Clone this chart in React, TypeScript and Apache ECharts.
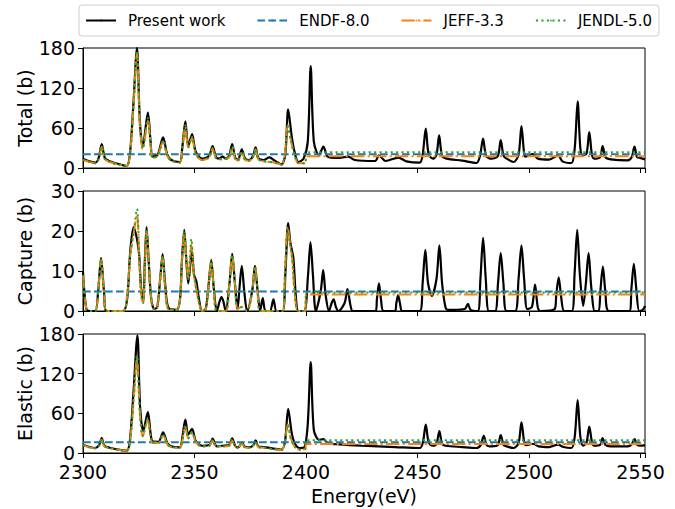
import React, { useEffect, useRef } from "react";
import * as echarts from "echarts";

const seriesNames = ["Present work", "ENDF-8.0", "JEFF-3.3", "JENDL-5.0"];
const panelNames = ["Total (b)", "Capture (b)", "Elastic (b)"];
const xTicks = [2300, 2350, 2400, 2450, 2500, 2550];
const xRange = [2300, 2552];
const yRanges = [[0, 180, 60], [0, 30, 10], [0, 180, 60]];

// ---- Total cross section ----
const totalPresent = [
  [2300,14],[2303,10],[2305.5,8],[2307,15],[2308.4,36],[2309.8,15],[2312,10],[2316,6],[2319.6,3],[2321,20],[2322.5,90],[2324.2,180],[2325.5,70],[2326.8,32],[2329.1,83],[2330.3,40],[2331.2,17],[2333.5,20],[2335.9,46],[2337.8,20],[2339.6,12],[2343.4,9],[2344.5,30],[2345.9,70],[2347.2,33],[2348.9,51],[2350.5,25],[2353.4,14],[2356.5,18],[2358.1,33],[2359.6,17],[2361,14],[2362.6,17],[2364,14],[2365.5,18],[2366.9,36],[2368.2,16],[2369.5,12],[2371.2,28],[2372.7,14],[2374.5,12],[2376.2,18],[2377.4,31],[2378.6,15],[2381,12],[2383.6,16],[2386,11],[2389,5.5],[2390.7,20],[2392,88],[2393.6,47],[2394.8,25],[2396.6,9],[2398.9,14],[2400.8,40],[2402.1,153],[2403.5,40],[2405.8,19],[2407.8,32],[2409.7,17],[2414,15],[2418.9,17],[2421.9,12],[2431,10.5],[2432.7,19],[2435.7,10.5],[2441.4,15.6],[2445,10],[2451,8],[2452.3,20],[2453.7,59],[2455,20],[2457,14],[2458.5,20],[2459.7,49],[2461,18],[2463,14],[2470,11],[2476.4,7.5],[2478,18],[2479.4,44],[2480.8,18],[2483.2,14],[2486,18],[2487.3,42],[2488.6,18],[2490,14],[2493.1,9],[2495.3,20],[2496.6,63],[2497.8,22],[2498.5,17],[2501.8,21],[2504,14],[2509,12.6],[2513,19],[2515,10],[2519,7.5],[2520.5,30],[2521.8,100],[2523,30],[2524,19],[2525.8,22],[2527,54],[2528.2,20],[2529.2,14],[2531.8,16],[2533,33],[2534.3,16],[2536.6,13],[2544.2,11.5],[2546,16],[2547.3,32],[2548.5,16],[2549.5,15.6],[2552,13]
];
const totalEndf = [[2300,20.8],[2552,20.8]];
const totalJeff = [
  [2300,12],[2303,9],[2305.5,7],[2307,13],[2308.4,32],[2309.8,13],[2312,9],[2316,5],[2319.6,3],[2321,18],[2322.5,85],[2324.2,172],[2325.5,65],[2326.8,28],[2329.1,72],[2330.3,36],[2331.2,15],[2333.5,18],[2335.9,40],[2337.8,18],[2339.6,11],[2343.4,8],[2344.5,28],[2345.9,62],[2347.2,30],[2348.9,45],[2350.5,22],[2353.4,12],[2356.5,16],[2358.1,29],[2359.6,15],[2362.6,13],[2365.5,16],[2366.9,32],[2368.2,14],[2369.5,11],[2371.2,24],[2372.7,12],[2374.5,11],[2376.2,16],[2377.4,28],[2378.6,13],[2381,10],[2386,8],[2389,5],[2390.5,20],[2391.8,64],[2393.3,40],[2394.8,20],[2396.6,7],[2399.8,7],[2400,17.6],[2552,17.6]
];
const totalJendl = [
  [2300,12.5],[2303,9],[2305.5,7],[2307,13],[2308.4,33],[2309.8,13],[2312,9],[2316,5],[2319.6,3],[2321,18],[2322.5,86],[2324.2,176],[2325.5,66],[2326.8,29],[2329.1,75],[2330.3,37],[2331.2,15],[2333.5,18],[2335.9,41],[2337.8,18],[2339.6,11],[2343.4,8],[2344.5,28],[2345.9,64],[2347.2,31],[2348.9,47],[2350.5,22],[2353.4,12],[2356.5,16],[2358.1,30],[2359.6,15],[2362.6,13],[2365.5,16],[2366.9,33],[2368.2,14],[2369.5,11],[2371.2,25],[2372.7,12],[2374.5,11],[2376.2,16],[2377.4,29],[2378.6,13],[2381,10],[2386,8],[2389,5],[2390.5,20],[2391.8,62],[2393.3,40],[2394.8,20],[2396.6,7],[2399.8,7],[2400,23.5],[2552,23.5]
];

// ---- Capture cross section ----
const capturePresent = [
  [2300,9.8],[2301.5,0.5],[2303,0],[2305.5,0],[2306.8,5],[2308.1,13.2],[2309.4,5],[2310.6,0],[2318,0],[2319.8,3],[2321.2,15],[2322.7,21],[2324.2,18],[2325.2,14],[2326,6],[2327,2.5],[2327.7,12],[2328.5,21],[2329.5,12],[2330.6,3],[2332,0.5],[2333.3,1],[2334.6,8],[2335.7,14.2],[2336.8,7],[2338.3,0.8],[2342,0.3],[2343.5,3],[2344.4,13],[2345.4,20.3],[2346.4,12],[2347.2,6.9],[2348.8,14.9],[2349.8,9],[2350.8,7.5],[2352,3],[2353.4,0],[2355,0.5],[2356.4,7],[2357.5,12.8],[2358.6,6],[2360,0],[2361.3,2.5],[2362.1,3.5],[2362.9,2.5],[2364,0],[2365.7,7],[2366.9,14.3],[2368.1,7],[2369.3,0.5],[2370.2,6],[2371.2,11.3],[2372.3,5],[2373.6,0],[2376,5.5],[2377.1,11.3],[2378.3,5],[2379.4,0],[2380.6,3.2],[2381.8,0],[2383.8,0],[2385.4,2.9],[2386.8,0],[2389.5,0],[2390.8,10],[2392,22],[2393,17],[2394.3,13.4],[2395.4,4],[2396.6,0],[2399.2,0],[2400.9,9],[2402,17.2],[2403.1,9],[2404.4,0],[2406.6,5],[2407.7,10.2],[2408.8,4],[2410.3,0],[2411.5,2],[2412.4,2.9],[2413.4,1],[2414.5,0],[2417.3,2],[2418.6,5.5],[2419.9,1.5],[2421,0],[2431.2,0],[2431.8,3],[2432.7,6.9],[2433.6,3],[2434.8,0],[2439.8,0],[2440.5,2],[2441.3,4],[2442.1,2],[2443.2,0],[2451,0],[2452.3,7],[2453.5,15.3],[2454.7,7],[2456.4,3.8],[2458.5,8],[2459.8,16.4],[2461,7],[2462.5,1],[2463.5,0.3],[2466,0.3],[2471.2,0.5],[2472.6,1.8],[2473.8,0.3],[2477,0],[2478.2,8],[2479.4,18.3],[2480.6,8],[2482,0],[2484.8,0],[2486.1,7],[2487.3,14.5],[2488.5,7],[2489.9,0],[2493.8,0],[2495.3,8],[2496.6,16.4],[2497.8,8],[2499.2,0.5],[2501.3,1],[2502.7,6.6],[2503.9,1],[2505,0],[2511.5,0.5],[2512.2,4],[2513.3,8.4],[2514.4,3.5],[2515.8,0],[2519.2,0],[2520.4,9],[2521.6,20.3],[2522.8,9],[2524.3,1.3],[2525.5,7],[2526.7,14.5],[2527.9,6],[2529.5,0],[2531.2,0],[2532,5],[2533.1,11.1],[2534.2,5],[2535.8,0],[2545,0],[2545.9,5.5],[2547,11.8],[2548.1,5.5],[2549.4,0],[2551,0.3],[2552,1.3]
];
const captureEndf = [[2300,4.9],[2552,4.9]];
const captureJeff = [
  [2300,9],[2301.5,0.5],[2303,0],[2305.5,0],[2306.8,5],[2308.1,12.8],[2309.4,5],[2310.6,0],[2318,0],[2319.8,4],[2321.2,14],[2322.6,19],[2324.2,24],[2325.3,12],[2326.3,3],[2327,2],[2327.7,11],[2328.5,20],[2329.5,12],[2330.6,3],[2332,0.3],[2333.3,1],[2334.6,8],[2335.7,13.5],[2336.8,6],[2338.3,0.5],[2342,0.3],[2343.5,3],[2344.4,13],[2345.4,19.5],[2346.4,12],[2347.2,8],[2348.6,16.5],[2349.7,9],[2350.6,6],[2352,2],[2353.4,0],[2355,0.5],[2356.4,7],[2357.5,12.3],[2358.6,6],[2360,0],[2364,0],[2365.7,7],[2366.9,13.8],[2368.1,7],[2369.3,0.5],[2371.2,1],[2373.6,0],[2376,5.5],[2377.1,11.2],[2378.3,5],[2379.4,0],[2389.5,0],[2390.6,10],[2391.8,21],[2392.8,17],[2393.8,13],[2395,4],[2396.4,0],[2399.7,0],[2400,4.1],[2552,4.1]
];
const captureJendl = [
  [2300,9],[2301.5,0.5],[2303,0],[2305.5,0],[2306.8,5],[2308.1,13],[2309.4,5],[2310.6,0],[2318,0],[2319.8,4],[2321.2,14],[2322.6,19],[2324.2,25.5],[2325.3,12],[2326.3,3],[2327,2],[2327.7,11],[2328.5,20.5],[2329.5,12],[2330.6,3],[2332,0.3],[2333.3,1],[2334.6,8],[2335.7,13.8],[2336.8,6],[2338.3,0.5],[2342,0.3],[2343.5,3],[2344.4,13],[2345.4,20],[2346.4,12],[2347.2,8],[2348.6,18],[2349.7,9],[2350.6,6],[2352,2],[2353.4,0],[2355,0.5],[2356.4,7],[2357.5,12.5],[2358.6,6],[2360,0],[2364,0],[2365.7,7],[2366.9,14],[2368.1,7],[2369.3,0.5],[2371.2,1],[2373.6,0],[2376,5.5],[2377.1,11.2],[2378.3,5],[2379.4,0],[2389.5,0],[2390.6,10],[2391.8,20.5],[2392.8,17],[2393.8,13],[2395,4],[2396.4,0],[2399.7,0],[2400,4.6],[2552,4.6]
];

// ---- Elastic cross section ----
const elasticPresent = [
  [2300,12.6],[2303,9],[2305.5,7.6],[2307.2,12],[2308.4,22.7],[2309.6,11],[2312,8],[2316,5],[2319.6,3.5],[2321,18],[2322.6,90],[2324.4,178],[2325.6,70],[2327,33],[2329.1,61.7],[2330.3,30],[2331.2,17.7],[2333.8,17],[2335.9,31.3],[2337.8,15],[2339.6,10],[2343.4,8.6],[2344.6,25],[2345.9,50.6],[2347.2,27.8],[2348.9,36.4],[2350.6,18],[2353.4,11],[2356.7,12],[2358.1,21.7],[2359.4,12],[2360.3,10],[2362.6,11],[2365.5,12],[2366.9,22.2],[2368.2,11],[2369.2,8.6],[2370.1,10],[2371.2,16],[2372.4,10],[2374,8.6],[2376.2,11],[2377.4,19],[2378.6,10],[2381,9],[2385,7],[2389,5],[2390.6,18],[2392,66.7],[2393.6,30],[2395,14],[2397,7.6],[2399,8],[2400.7,40],[2402.1,137.5],[2403.5,35],[2405.8,20],[2407.8,21],[2409.8,15],[2415,13],[2425,11],[2440,9],[2451,7.6],[2452.4,16],[2453.7,43],[2455,16],[2456.8,11],[2458.5,14],[2459.8,33],[2461,14],[2462.6,11],[2470,9],[2476.4,7.6],[2478.3,12],[2479.7,26],[2481,12],[2483.2,10],[2486,12],[2487.3,27],[2488.6,12],[2490,10],[2493.1,7.6],[2495.3,15],[2496.6,46.5],[2497.9,15],[2498.8,12],[2501.8,14],[2504.4,10],[2509,9],[2513,12.6],[2515.5,9],[2519,7.6],[2520.5,25],[2521.8,80],[2523,25],[2524.2,11],[2525.8,16],[2527,40],[2528.3,15],[2529.2,11],[2531.8,12],[2533,22.7],[2534.3,12],[2536.6,10],[2544.2,10],[2546,13],[2547.3,21],[2548.6,12],[2550,11],[2552,12]
];
const elasticEndf = [[2300,16.2],[2552,16.2]];
const elasticJeff = [
  [2300,12],[2303,8.5],[2305.5,7],[2307.2,11],[2308.4,20],[2309.6,10],[2312,7.5],[2316,5],[2319.6,3.5],[2321,15],[2322.6,75],[2324.2,144],[2325.5,60],[2326.8,25],[2329,50],[2330.3,25],[2331.2,15],[2333.8,15],[2335.9,27],[2337.8,13],[2339.6,9],[2343.4,8],[2344.6,20],[2345.9,40],[2347.2,22],[2348.9,31],[2350.6,16],[2353.4,10],[2356.7,11],[2358.1,19],[2359.4,11],[2362.6,10],[2365.5,11],[2366.9,19],[2368.2,10],[2369.2,8],[2371.2,14],[2372.4,9],[2374,8],[2376.2,10],[2377.4,16],[2378.6,9],[2381,8],[2385,6],[2389,4.5],[2390.4,15],[2391.8,43],[2393.2,22],[2394.8,10],[2397,5],[2399.7,6],[2400,13.6],[2552,13.6]
];
const elasticJendl = [
  [2300,12],[2303,8.5],[2305.5,7],[2307.2,11],[2308.4,21],[2309.6,10],[2312,7.5],[2316,5],[2319.6,3.5],[2321,15],[2322.6,76],[2324.2,147],[2325.5,61],[2326.8,26],[2329,52],[2330.3,25],[2331.2,15],[2333.8,15],[2335.9,28],[2337.8,13],[2339.6,9],[2343.4,8],[2344.6,20],[2345.9,42],[2347.2,22],[2348.9,32],[2350.6,16],[2353.4,10],[2356.7,11],[2358.1,20],[2359.4,11],[2362.6,10],[2365.5,11],[2366.9,20],[2368.2,10],[2369.2,8],[2371.2,15],[2372.4,9],[2374,8],[2376.2,10],[2377.4,17],[2378.6,9],[2381,8],[2385,6],[2389,4.5],[2390.4,15],[2391.8,42],[2393.2,22],[2394.8,10],[2397,5],[2399.7,6],[2400,19.2],[2552,19.2]
];

const panelData = [
  [totalPresent, totalEndf, totalJeff, totalJendl],
  [capturePresent, captureEndf, captureJeff, captureJendl],
  [elasticPresent, elasticEndf, elasticJeff, elasticJendl],
];

const colors = ["#000000", "#1f77b4", "#ff7f0e", "#2ca02c"];
const dashes: any[] = ["solid", [7.7, 3.3], [13.3, 3.3, 2.1, 3.3], [2.1, 3.4]];
const FONT = "DejaVu Sans";

const grids = [
  { top: 48, height: 120 },
  { top: 191, height: 120 },
  { top: 334, height: 119 },
];

export default function App() {
  const ref = useRef<HTMLDivElement>(null);
  useEffect(() => {
    if (!ref.current) return;
    const chart = echarts.init(ref.current, null, { renderer: "svg" });
    const option: any = {
      animation: false,
      backgroundColor: "#ffffff",
      legend: {
        data: seriesNames,
        left: 79,
        top: 5,
        itemWidth: 30,
        itemHeight: 2,
        itemGap: 31,
        padding: [8, 7, 8, 6],
        borderColor: "#cccccc",
        borderWidth: 1,
        borderRadius: 3,
        textStyle: { fontFamily: FONT, fontSize: 15, color: "#000", padding: [0, 0, 0, 7] },
      },
      grid: grids.map((g) => ({
        left: 83,
        width: 562,
        top: g.top,
        height: g.height,
        show: true,
        borderColor: "#000",
        borderWidth: 1,
        backgroundColor: "transparent",
      })),
      xAxis: grids.map((_, i) => ({
        type: "value",
        gridIndex: i,
        min: xRange[0],
        max: xRange[1],
        interval: 50,
        axisLine: { show: true, lineStyle: { color: "#000", width: 1 } },
        axisTick: { show: true, length: 5, lineStyle: { color: "#000" } },
        splitLine: { show: false },
        axisLabel: {
          show: i === 2,
          margin: 9,
          fontFamily: FONT,
          fontSize: 19,
          color: "#000",
          formatter: (v: number) => (xTicks.indexOf(v) >= 0 ? String(v) : ""),
        },
        name: i === 2 ? "Energy(eV)" : "",
        nameLocation: "middle",
        nameGap: 33,
        nameMoveOverlap: false,
        nameTextStyle: { fontFamily: FONT, fontSize: 19, color: "#000" },
      })),
      yAxis: grids.map((_, i) => ({
        type: "value",
        gridIndex: i,
        min: yRanges[i][0],
        max: yRanges[i][1],
        interval: yRanges[i][2],
        axisLine: { show: true, lineStyle: { color: "#000", width: 1 } },
        axisTick: { show: true, length: 5, lineStyle: { color: "#000" } },
        splitLine: { show: false },
        axisLabel: { margin: 8, fontFamily: FONT, fontSize: 19, color: "#000" },
        name: panelNames[i],
        nameLocation: "middle",
        nameGap: 49,
        nameMoveOverlap: false,
        nameTextStyle: { fontFamily: FONT, fontSize: 19, color: "#000" },
      })),
      series: panelData.flatMap((arr, p) =>
        arr.map((d, s) => ({
          type: "line",
          name: seriesNames[s],
          xAxisIndex: p,
          yAxisIndex: p,
          data: d,
          showSymbol: false,
          symbol: "none",
          smooth: s === 1 ? false : 0.3,
          lineStyle: { color: colors[s], width: s === 0 ? 2.2 : 2, type: dashes[s] },
          itemStyle: { color: colors[s] },
          z: 2 + s,
        }))
      ),
    };
    chart.setOption(option);
    return () => chart.dispose();
  }, []);
  return (
    <div
      ref={ref}
      style={{ position: "absolute", left: 0, top: 0, width: 675, height: 509, background: "#fff" }}
    />
  );
}
